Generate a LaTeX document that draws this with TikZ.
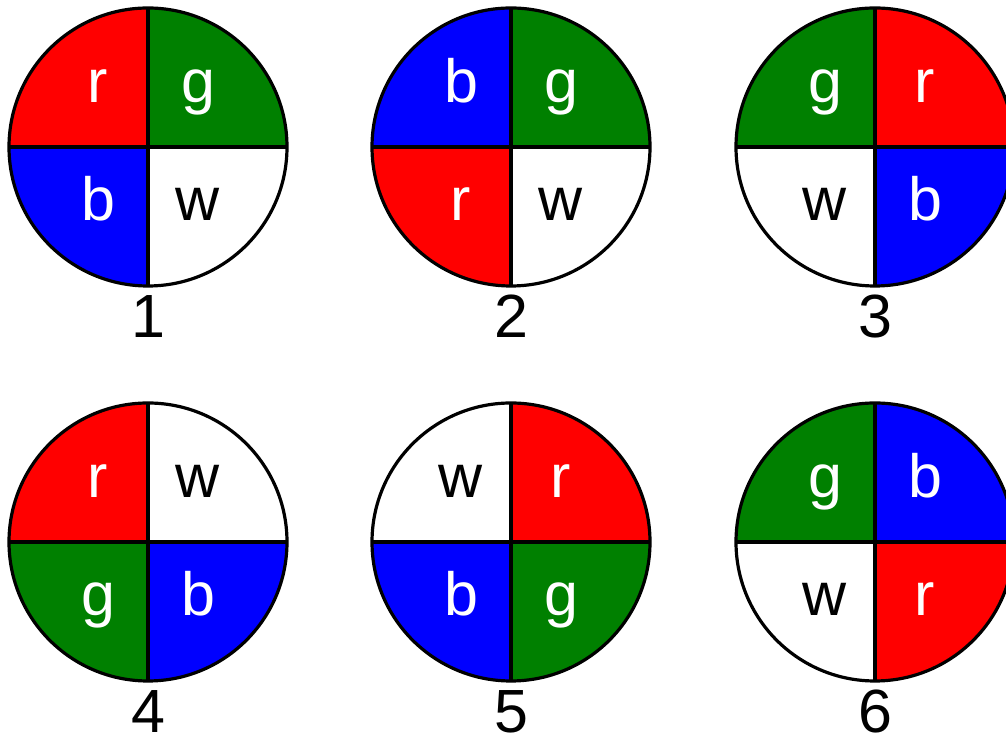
\documentclass[tikz,border=0pt]{standalone}
\usepackage{fontspec}
\setmainfont{Liberation Sans}
\definecolor{fillr}{RGB}{255,0,0}
\definecolor{fillg}{RGB}{0,128,0}
\definecolor{fillb}{RGB}{0,0,255}
\definecolor{fillw}{RGB}{255,255,255}
\colorlet{textr}{white}
\colorlet{textg}{white}
\colorlet{textb}{white}
\colorlet{textw}{black}
\begin{document}
\begin{tikzpicture}[x=0.5pt,y=0.5pt,
	seg/.style={draw=black,line width=1.6pt},
	lett/.style={font=\fontsize{30.5}{36}\selectfont,inner sep=0pt,anchor=base}]
\useasboundingbox (0,0) rectangle (1006,743);
\clip (0,0) rectangle (1006,743);
\def\r{139}
\foreach \n/\cx/\cy/\qtl/\qtr/\qbl/\qbr in {1/148/596/r/g/b/w,2/511/596/b/g/r/w,3/875/596/g/r/w/b,4/148/201/r/w/g/b,5/511/201/w/r/b/g,6/875/201/g/b/w/r}{
	\coordinate (c\n) at (\cx,\cy);
	\foreach \q/\a in {\qtr/0,\qtl/90,\qbl/180,\qbr/270}
		\fill[fill\q] (c\n) -- ++(\a:\r) arc[start angle=\a, delta angle=90, radius=\r] -- cycle;
	\draw[seg] (c\n) circle[radius=\r];
	\draw[seg] (c\n) ++(-\r,0) -- ++({2*\r},0);
	\draw[seg] (c\n) ++(0,-\r) -- ++(0,{2*\r});
	\node[lett,text=text\qtl] (tl\n) at (\cx-50,\cy+44) {\qtl};
	\node[lett,text=text\qtr] (tr\n) at (\cx+50,\cy+44) {\qtr};
	\node[lett,text=text\qbl] (bl\n) at (\cx-50,\cy-74) {\qbl};
	\node[lett,text=text\qbr] (br\n) at (\cx+50,\cy-74) {\qbr};
	\node[lett] (lab\n) at (\cx,\cy-191) {\n};}
\end{tikzpicture}
\end{document}
